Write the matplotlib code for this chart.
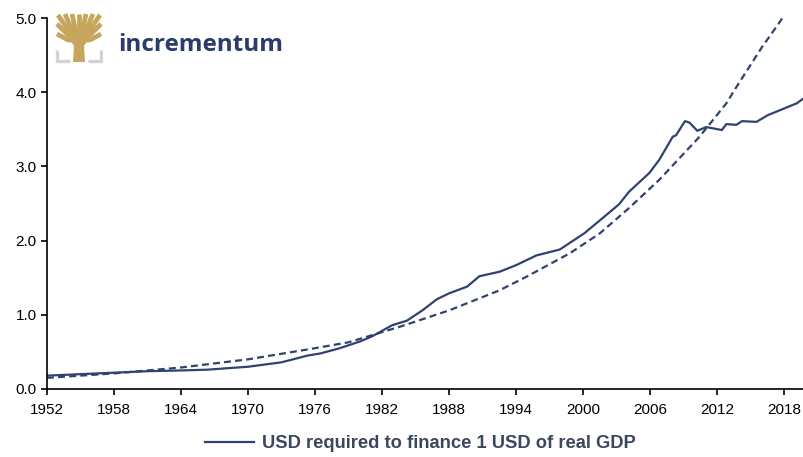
import numpy as np
import matplotlib
matplotlib.use('Agg')
import matplotlib.pyplot as plt
from matplotlib.patches import Polygon

# --- данные ---
solid_years = [1952, 1955, 1958, 1961, 1964, 1966.3, 1970, 1973, 1975.3, 1976.5,
               1978.2, 1980, 1981.1, 1982.9, 1984.2, 1985.6, 1986.9, 1988, 1989.6,
               1990.7, 1992.5, 1994, 1995.8, 1997.9, 2000.1, 2001.7, 2003.2,
               2004.1, 2005.9, 2006.8, 2008.0, 2008.3, 2009.1, 2009.5, 2010.2,
               2011.0, 2012.4, 2012.8, 2013.7, 2014.2, 2015.5, 2016.5, 2017.8,
               2019.1, 2019.75]
solid_values = [0.18, 0.20, 0.22, 0.24, 0.25, 0.26, 0.30, 0.36, 0.45, 0.48,
                0.55, 0.64, 0.71, 0.86, 0.92, 1.06, 1.21, 1.29, 1.38,
                1.52, 1.58, 1.67, 1.80, 1.88, 2.10, 2.30, 2.49,
                2.66, 2.91, 3.09, 3.40, 3.42, 3.61, 3.59, 3.48,
                3.53, 3.49, 3.57, 3.56, 3.61, 3.60, 3.69, 3.77,
                3.85, 3.92]

trend_years = [1952, 1958, 1964, 1970, 1976, 1979, 1983.6, 1988, 1992.5, 1995,
               1998.8, 2001.5, 2004.1, 2006.8, 2008.6, 2010.4, 2012.8, 2013.7,
               2016, 2017.6, 2018.0]
trend_values = [0.15, 0.21, 0.29, 0.40, 0.55, 0.63, 0.84, 1.06, 1.33, 1.52,
                1.83, 2.10, 2.44, 2.82, 3.11, 3.40, 3.85, 4.07,
                4.61, 4.95, 5.05]

year_ticks = [1952, 1958, 1964, 1970, 1976, 1982, 1988, 1994, 2000, 2006, 2012, 2018]
value_ticks = [0.0, 1.0, 2.0, 3.0, 4.0, 5.0]
legend_label = 'USD required to finance 1 USD of real GDP'

navy = '#2f4270'
gold = '#c6a65c'

plt.rcParams['font.family'] = ['Liberation Sans', 'DejaVu Sans']
plt.rcParams['lines.scale_dashes'] = False

W, H = 804, 457
fig = plt.figure(figsize=(W / 100, H / 100), dpi=100)
ax = fig.add_axes([47 / W, 1 - 389 / H, 1 - 47 / W, (389 - 18) / H])

line, = ax.plot(solid_years, solid_values, color=navy, lw=1.6, label=legend_label)
ax.plot(trend_years, trend_values, color=navy, lw=1.6, dashes=(5, 3))

ax.set_xlim(1952, 2019.75)
ax.set_ylim(0, 5)
ax.set_xticks(year_ticks)
ax.set_yticks(value_ticks)
ax.set_yticklabels([f'{v:.1f}' for v in value_ticks])
for s in ['top', 'right']:
    ax.spines[s].set_visible(False)
for s in ['left', 'bottom']:
    ax.spines[s].set_linewidth(1.2)
ax.tick_params(axis='both', labelsize=11, width=1.2, length=4, direction='out')
ax.tick_params(axis='x', pad=6)

fig.legend(handles=[line], loc='center', bbox_to_anchor=(420 / W, 1 - 444 / H),
           frameon=False, handlelength=2.7, handletextpad=0.4,
           prop={'size': 13.2, 'weight': 'bold'}, labelcolor='#3a475e')

# --- логотип ---
lg = fig.add_axes([55 / W, 1 - 64 / H, 48 / W, 52 / H])
lg.set_xlim(-2, 46)
lg.set_ylim(50, -2)
lg.axis('off')
grey = '#d3d3d3'
lg.plot([0, 0, 13], [36, 47, 47], color=grey, lw=2.4, solid_capstyle='butt')
lg.plot([44, 44, 31], [36, 47, 47], color=grey, lw=2.4, solid_capstyle='butt')
lg.add_patch(Polygon([[16, 48], [28, 48], [27, 32], [34, 22], [10, 22], [17, 32]],
                     closed=True, color=gold, lw=0))
for tx, ty in [(0, 10), (1, 1), (8, 0), (15, 0), (22, 0), (29, 0), (36, 0), (43, 1), (44, 10),
               (0, 20), (44, 20)]:
    lg.plot([22, (22 + tx) / 2, tx], [26, (26 + ty) / 2 + 3, ty], color=gold, lw=3.4,
            solid_capstyle='butt')

fig.text(118 / W, 1 - 51 / H, 'incrementum', color='#2b3b6b', fontsize=17.5,
         fontweight='bold', family=['Open Sans', 'DejaVu Sans'], va='baseline')

fig.savefig('out.png', dpi=100)
